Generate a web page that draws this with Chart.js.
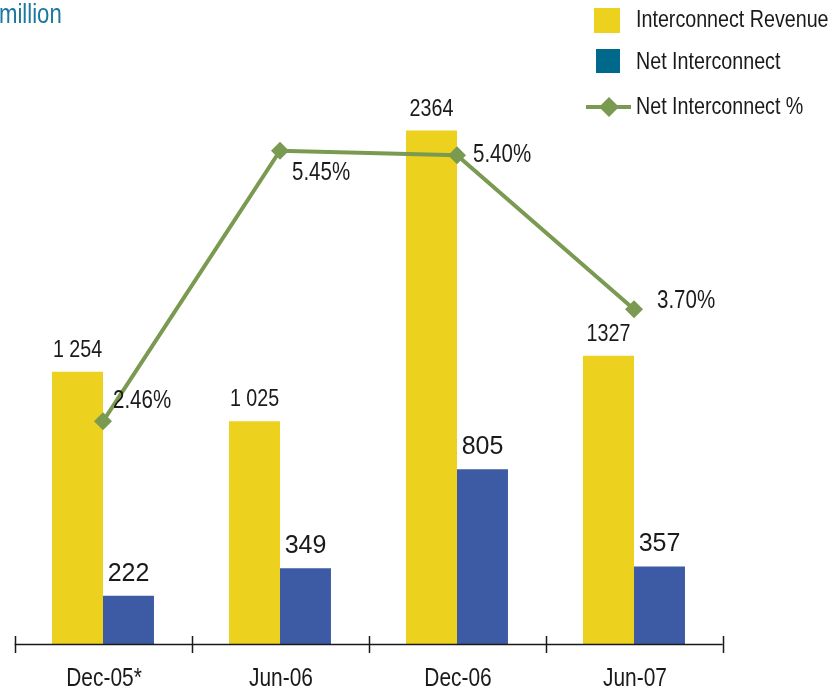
<!DOCTYPE html>
<html>
<head>
<meta charset="utf-8">
<script src="https://cdn.jsdelivr.net/npm/chart.js@4.4.0/dist/chart.umd.min.js"></script>
<style>
  html, body { margin: 0; padding: 0; background: #fff; }
  #wrap { width: 832px; height: 692px; position: relative; }
</style>
</head>
<body>
<div id="wrap"><canvas id="interconnectChart"></canvas></div>
<script>
// half-year periods and the three series
const periods = ['Dec-05*', 'Jun-06', 'Dec-06', 'Jun-07'];
const revenue = [1254, 1025, 2364, 1327];
const revenueText = ['1 254', '1 025', '2364', '1327'];
const netInterconnect = [222, 349, 805, 357];
const netPercent = [2.46, 5.45, 5.40, 3.70];
const seriesNames = ['Interconnect Revenue', 'Net Interconnect', 'Net Interconnect %'];

const SANS = "'Liberation Sans', Arial, sans-serif";
const YELLOW = '#ECD11F';
const BLUE = '#3D5BA4';
const GREEN = '#7B9A51';
const INK = '#1a1a1a';
const SQUEEZE = 0.82; // no narrow face installed, so condense the regular one

// where each % label sits relative to its point
const pctOffsets = [[10, -20], [12, 22], [16, 0], [23, -8]];

// legend swatches (the key uses a darker teal for the net series)
const legendSwatches = ['#ECD11F', '#00688B', '#7B9A51'];

function narrowText(ctx, text, x, y, align) {
    ctx.save();
    ctx.translate(x, y);
    ctx.scale(SQUEEZE, 1);
    ctx.textAlign = align;
    ctx.fillText(text, 0, 0);
    ctx.restore();
}

const decorPlugin = {
    id: 'decor',
    afterDatasetsDraw(chart) {
        const ctx = chart.ctx;
        const area = chart.chartArea;
        const xs = chart.scales.x;
        ctx.save();

        // x axis with tick marks between categories
        ctx.strokeStyle = INK;
        ctx.lineWidth = 1.5;
        ctx.beginPath();
        ctx.moveTo(area.left, area.bottom + 0.5);
        ctx.lineTo(area.right, area.bottom + 0.5);
        const step = (xs.right - xs.left) / periods.length;
        for (let i = 0; i <= periods.length; i++) {
            const px = Math.round(xs.left + i * step) + 0.5;
            ctx.moveTo(px, area.bottom - 8);
            ctx.lineTo(px, area.bottom + 9);
        }
        ctx.stroke();

        // category names under the axis
        ctx.fillStyle = INK;
        ctx.textBaseline = 'alphabetic';
        ctx.font = '25.5px ' + SANS;
        chart.data.labels.forEach((lab, i) => {
            narrowText(ctx, lab, xs.getPixelForValue(i) + 1, area.bottom + 42, 'center');
        });

        // value labels above the bars
        ctx.font = '24px ' + SANS;
        chart.getDatasetMeta(0).data.forEach((bar, i) => {
            narrowText(ctx, revenueText[i], bar.x, bar.y - 15, 'center');
        });
        ctx.font = '25px ' + SANS;
        ctx.textAlign = 'center';
        chart.getDatasetMeta(1).data.forEach((bar, i) => {
            ctx.fillText(String(netInterconnect[i]), bar.x, bar.y - 15);
        });

        // percentage labels beside the line points
        ctx.font = '25px ' + SANS;
        ctx.textBaseline = 'middle';
        chart.getDatasetMeta(2).data.forEach((pt, i) => {
            narrowText(ctx, netPercent[i].toFixed(2) + '%', pt.x + pctOffsets[i][0], pt.y + pctOffsets[i][1], 'left');
        });

        // unit caption
        ctx.fillStyle = '#1B789F';
        ctx.font = '27px ' + SANS;
        ctx.textBaseline = 'alphabetic';
        narrowText(ctx, 'million', -1, 23, 'left');

        // key, top right
        ctx.fillStyle = legendSwatches[0];
        ctx.fillRect(594, 8, 26, 25);
        ctx.fillStyle = legendSwatches[1];
        ctx.fillRect(596, 49, 24, 24);
        ctx.strokeStyle = legendSwatches[2];
        ctx.lineWidth = 4;
        ctx.beginPath();
        ctx.moveTo(586, 107);
        ctx.lineTo(631, 107);
        ctx.stroke();
        ctx.fillStyle = legendSwatches[2];
        ctx.beginPath();
        ctx.moveTo(609, 97);
        ctx.lineTo(619, 107);
        ctx.lineTo(609, 117);
        ctx.lineTo(599, 107);
        ctx.closePath();
        ctx.fill();

        ctx.fillStyle = INK;
        ctx.font = '24px ' + SANS;
        narrowText(ctx, seriesNames[0], 636, 27, 'left');
        narrowText(ctx, seriesNames[1], 636, 69, 'left');
        narrowText(ctx, seriesNames[2], 636, 114, 'left');
        ctx.restore();
    }
};

new Chart(document.getElementById('interconnectChart'), {
    type: 'bar',
    data: {
        labels: periods,
        datasets: [
            {
                label: seriesNames[0],
                data: revenue,
                backgroundColor: YELLOW,
                yAxisID: 'y',
                categoryPercentage: 0.576,
                barPercentage: 1
            },
            {
                label: seriesNames[1],
                data: netInterconnect,
                backgroundColor: BLUE,
                yAxisID: 'y',
                categoryPercentage: 0.576,
                barPercentage: 1
            },
            {
                type: 'line',
                label: seriesNames[2],
                data: netPercent,
                yAxisID: 'y2',
                order: -1,
                borderColor: GREEN,
                borderWidth: 4,
                backgroundColor: GREEN,
                pointStyle: 'rectRot',
                pointRadius: 9,
                pointBorderWidth: 0,
                pointBackgroundColor: GREEN,
                tension: 0
            }
        ]
    },
    options: {
        responsive: true,
        maintainAspectRatio: false,
        animation: false,
        layout: { padding: { left: 14.5, right: 109.5, top: 101, bottom: 0 } },
        plugins: {
            legend: { display: false },
            tooltip: { enabled: false }
        },
        scales: {
            x: {
                grid: { display: false, drawTicks: false },
                border: { display: false },
                ticks: { display: false },
                afterFit(scale) { scale.height = 48; }
            },
            y: { display: false, min: 0, max: 2500 },
            y2: { display: false, min: 0, max: 6 }
        }
    },
    plugins: [decorPlugin]
});
</script>
</body>
</html>
